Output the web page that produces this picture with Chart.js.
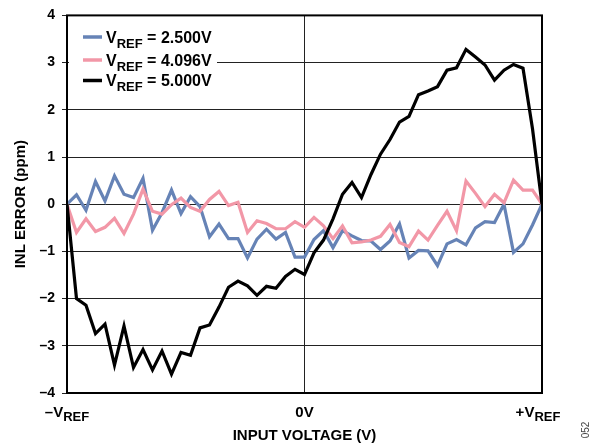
<!DOCTYPE html>
<html>
<head>
<meta charset="utf-8">
<script src="https://cdn.jsdelivr.net/npm/chart.js@4/dist/chart.umd.min.js"></script>
<style>
  html, body { margin: 0; padding: 0; background: #fff; }
  #wrap { width: 598px; height: 446px; }
</style>
</head>
<body>
<div id="wrap"><canvas id="inlChart" width="598" height="446"></canvas></div>
<script>
// codes across the input range, -VREF .. +VREF (51 steps)
const codeSteps = Array.from({ length: 51 }, (_, i) => i);

const inlVref2500 = [0, 0.20, -0.13, 0.48, 0.07, 0.60, 0.21, 0.14, 0.55, -0.55, -0.18,
    0.30, -0.20, 0.16, -0.05, -0.69, -0.42, -0.73, -0.73, -1.14, -0.74,
    -0.53, -0.74, -0.60, -1.12, -1.12, -0.75, -0.56, -0.92, -0.56, -0.67,
    -0.77, -0.78, -0.96, -0.78, -0.42, -1.14, -0.98, -0.99, -1.30, -0.84,
    -0.75, -0.86, -0.50, -0.37, -0.39, 0.00, -1.02, -0.84, -0.44, 0];

const inlVref4096 = [0, -0.60, -0.31, -0.58, -0.49, -0.30, -0.62, -0.21, 0.32, -0.15, -0.21,
    -0.01, 0.13, -0.07, -0.15, 0.10, 0.27, -0.03, 0.04, -0.60, -0.35,
    -0.41, -0.52, -0.52, -0.37, -0.49, -0.28, -0.46, -0.73, -0.46, -0.82,
    -0.80, -0.76, -0.68, -0.43, -0.81, -0.90, -0.57, -0.76, -0.45, -0.15,
    -0.56, 0.49, 0.23, -0.05, 0.21, 0.03, 0.51, 0.30, 0.30, 0];

const inlVref5000 = [0, -2.00, -2.14, -2.74, -2.54, -3.41, -2.58, -3.46, -3.08, -3.51, -3.11,
    -3.60, -3.14, -3.20, -2.62, -2.56, -2.18, -1.76, -1.63, -1.73, -1.93,
    -1.74, -1.78, -1.53, -1.38, -1.49, -1.03, -0.76, -0.31, 0.21, 0.46,
    0.14, 0.63, 1.06, 1.37, 1.74, 1.86, 2.32, 2.40, 2.49, 2.84,
    2.89, 3.28, 3.12, 2.95, 2.63, 2.84, 2.96, 2.88, 1.60, 0];

const seriesLabels = ['2.500V', '4.096V', '5.000V'];
const seriesColors = ['#6683b6', '#f297a7', '#000000'];

// x tick labels: main text + subscript
const xTickValues = [0, 25, 50];
const xTickLabels = [['–V', 'REF'], ['0V', ''], ['+V', 'REF']];

const FONT = '"Liberation Sans", Arial, sans-serif';

function toPoints(values) {
    return values.map((v, i) => ({ x: codeSteps[i], y: v }));
}

// draws a string made of pieces with different size / baseline shift
function drawRich(ctx, parts, x, y, align) {
    let total = 0;
    parts.forEach(p => {
        ctx.font = 'bold ' + p.size + 'px ' + FONT;
        p.w = ctx.measureText(p.t).width;
        total += p.w;
    });
    let cx = align === 'center' ? x - total / 2 : x;
    ctx.textAlign = 'left';
    ctx.textBaseline = 'alphabetic';
    parts.forEach(p => {
        ctx.font = 'bold ' + p.size + 'px ' + FONT;
        ctx.fillText(p.t, cx, y + (p.dy || 0));
        cx += p.w;
    });
}

const extrasPlugin = {
    id: 'extras',
    afterDatasetsDraw(chart) {
        const ctx = chart.ctx;
        const area = chart.chartArea;
        ctx.save();

        // plot frame
        ctx.strokeStyle = '#000';
        ctx.lineWidth = 2;
        ctx.strokeRect(area.left, area.top, area.right - area.left, area.bottom - area.top);

        // legend
        ctx.fillStyle = '#fff';
        ctx.fillRect(area.left + 2, 26, 148, 64);
        const rows = [37, 60, 80.5];
        seriesLabels.forEach((lab, i) => {
            ctx.strokeStyle = seriesColors[i];
            ctx.lineWidth = 3.5;
            ctx.beginPath();
            ctx.moveTo(83, rows[i]);
            ctx.lineTo(102, rows[i]);
            ctx.stroke();
            ctx.fillStyle = '#000';
            drawRich(ctx, [
                { t: 'V', size: 16 },
                { t: 'REF', size: 13, dy: 5 },
                { t: ' = ' + lab, size: 16 }
            ], 106, rows[i] + 5.7, 'left');
        });

        // x tick labels with subscripts
        const xs = chart.scales.x;
        ctx.fillStyle = '#000';
        xTickValues.forEach((v, i) => {
            const px = xs.getPixelForValue(v);
            const parts = [{ t: xTickLabels[i][0], size: 15 }];
            if (xTickLabels[i][1]) parts.push({ t: xTickLabels[i][1], size: 13, dy: 4 });
            // the end labels sit slightly inside the frame in the original
            const shift = i === 2 ? -4 : 0;
            drawRich(ctx, parts, px + shift, 417, 'center');
        });

        // figure number
        ctx.translate(586, 430);
        ctx.rotate(-Math.PI / 2);
        ctx.font = '10px ' + FONT;
        ctx.fillStyle = '#444';
        ctx.textAlign = 'center';
        ctx.textBaseline = 'middle';
        ctx.fillText('052', 0, 0);
        ctx.restore();
    }
};

const inlCtx = document.getElementById('inlChart');

new Chart(inlCtx, {
    type: 'line',
    data: {
        datasets: [
            { label: 'VREF = ' + seriesLabels[0], data: toPoints(inlVref2500), borderColor: seriesColors[0], order: 3 },
            { label: 'VREF = ' + seriesLabels[1], data: toPoints(inlVref4096), borderColor: seriesColors[1], order: 2 },
            { label: 'VREF = ' + seriesLabels[2], data: toPoints(inlVref5000), borderColor: seriesColors[2], order: 1 }
        ]
    },
    options: {
        responsive: false,
        animation: false,
        layout: { padding: { top: 14, right: 56, bottom: 0, left: 0 } },
        elements: {
            line: { borderWidth: 3.2, tension: 0, fill: false, borderJoinStyle: 'miter' },
            point: { radius: 0 }
        },
        plugins: {
            legend: { display: false },
            tooltip: { enabled: false }
        },
        scales: {
            x: {
                type: 'linear',
                min: 0,
                max: 50,
                afterFit: (scale) => { scale.height = 53; },
                ticks: { display: false, stepSize: 25 },
                grid: {
                    drawTicks: false,
                    lineWidth: 1,
                    color: (c) => (c.tick && c.tick.value === 25) ? '#222' : 'rgba(0,0,0,0)'
                },
                border: { display: false },
                title: {
                    display: true,
                    text: 'INPUT VOLTAGE (V)',
                    color: '#000',
                    font: { family: FONT, size: 15, weight: 'bold' },
                    padding: { top: 0, bottom: 1 }
                }
            },
            y: {
                min: -4,
                max: 4,
                afterFit: (scale) => { scale.width = 67; },
                ticks: {
                    stepSize: 1,
                    color: '#000',
                    padding: 7,
                    font: { family: FONT, size: 14, weight: 'bold' },
                    callback: (v) => v < 0 ? '–' + Math.abs(v) : String(v)
                },
                grid: { color: '#222', lineWidth: 1, tickLength: 5 },
                border: { display: false },
                title: {
                    display: true,
                    text: 'INL ERROR (ppm)',
                    color: '#000',
                    font: { family: FONT, size: 15, weight: 'bold' },
                    padding: { top: 12, bottom: 0 }
                }
            }
        }
    },
    plugins: [extrasPlugin]
});
</script>
</body>
</html>
